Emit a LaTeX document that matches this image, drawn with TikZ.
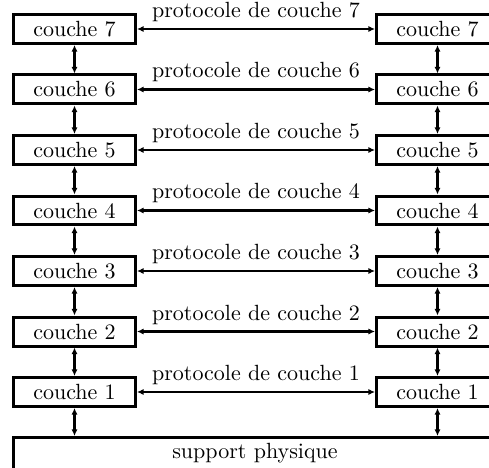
\documentclass[tikz,border=0pt]{standalone}
\usepackage{fontspec}
\usetikzlibrary{arrows.meta}
\begin{document}
\begin{tikzpicture}[x=0.45455pt,y=-0.45455pt,
  font=\addfontfeatures{LetterSpace=1.6},
  layer/.style={draw, line width=1.364pt, minimum width=55.45pt, minimum height=13.18pt, inner sep=0pt},
  link/.style={{Latex[length=3pt,width=2.8pt]}-{Latex[length=3pt,width=2.8pt]}, line width=1pt},
  thicklink/.style={link, line width=1.4pt},
  lbl/.style={above, inner sep=2.6pt}]
\useasboundingbox (0,0) rectangle (489,468);
\clip (0,0) rectangle (489,468);
\foreach \n [count=\k from 0] in {7,6,5,4,3,2,1} {
  \node[layer] (L\n) at (74.5,29+60.5*\k) {couche \n};
  \node[layer] (R\n) at (437.5,29+60.5*\k) {couche \n};
}
\node[draw, line width=1.364pt, minimum width=220.5pt, minimum height=27pt, anchor=north west] (support) at (12,436) {};
\node[anchor=base, inner sep=0pt] (supporttext) at (255,458) {support physique};
\foreach \n in {7,5,3,2,1}
  \draw[link] (L\n) -- node[lbl]{protocole de couche \n} (R\n);
\foreach \n in {6,4}
  \draw[thicklink] (L\n) -- node[lbl]{protocole de couche \n} (R\n);
\foreach \a/\b in {7/6,6/5,5/4,4/3,3/2,2/1} {
  \draw[link] (L\a) -- (L\b);
  \draw[link] (R\a) -- (R\b);
}
\draw[link] (L1) -- (L1.south |- support.north);
\draw[link] (R1) -- (R1.south |- support.north);
\end{tikzpicture}
\end{document}
